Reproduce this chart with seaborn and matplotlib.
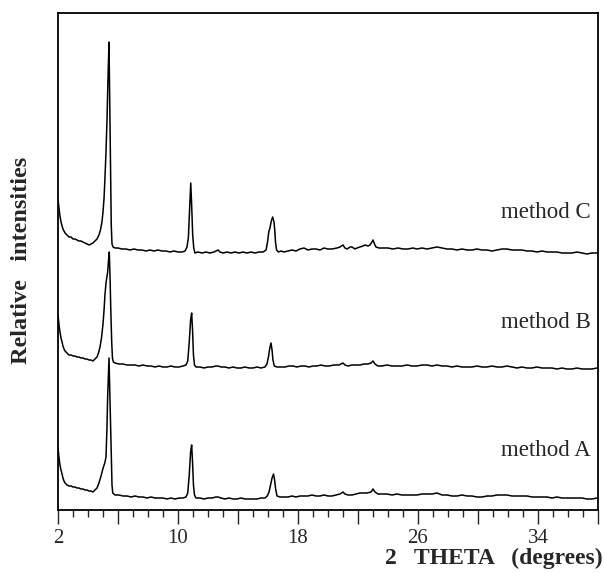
import pandas as pd
import matplotlib
matplotlib.use("Agg")
import matplotlib.pyplot as plt
import seaborn as sns
from matplotlib.ticker import FixedLocator, MultipleLocator

# (2-theta in degrees, relative intensity); traces are already stacked
method_c = [
    (2.00, 310), (2.07, 301), (2.13, 294), (2.20, 288), (2.27, 284), (2.33, 281), (2.40, 279),
    (2.47, 277), (2.60, 275), (2.73, 273), (2.87, 273), (3.00, 271), (3.13, 271), (3.27, 270),
    (3.40, 269), (3.53, 269), (3.67, 268), (3.80, 267), (3.93, 266), (4.07, 265), (4.20, 266),
    (4.33, 267), (4.47, 269), (4.60, 271), (4.73, 275), (4.83, 280), (4.93, 288), (5.00, 298),
    (5.07, 312), (5.13, 332), (5.20, 358), (5.27, 392), (5.33, 430), (5.40, 468), (5.45, 405),
    (5.50, 335), (5.55, 285), (5.60, 266), (5.67, 263), (5.80, 262), (6.00, 262), (6.27, 261),
    (6.53, 261), (6.80, 260), (7.07, 261), (7.33, 260), (7.60, 260), (7.87, 259), (8.13, 260),
    (8.40, 259), (8.67, 260), (8.93, 259), (9.20, 259), (9.47, 258), (9.73, 259), (10.00, 258),
    (10.27, 258), (10.47, 259), (10.60, 263), (10.69, 272), (10.77, 300), (10.85, 327),
    (10.91, 305), (10.98, 275), (11.05, 262), (11.13, 257), (11.33, 258), (11.60, 257),
    (11.87, 258), (12.13, 257), (12.40, 258), (12.67, 260), (12.80, 258), (13.00, 257),
    (13.27, 258), (13.53, 257), (13.80, 258), (14.07, 257), (14.33, 258), (14.60, 257),
    (14.87, 258), (15.13, 257), (15.40, 258), (15.67, 258), (15.87, 260), (15.97, 268),
    (16.05, 278), (16.13, 282), (16.22, 289), (16.31, 293), (16.40, 288), (16.45, 280),
    (16.50, 268), (16.57, 260), (16.70, 258), (16.87, 259), (17.07, 258), (17.33, 259),
    (17.60, 260), (17.87, 259), (18.13, 261), (18.40, 262), (18.67, 260), (18.93, 261),
    (19.20, 261), (19.47, 260), (19.73, 262), (20.00, 261), (20.27, 261), (20.60, 262),
    (20.80, 263), (21.00, 265), (21.13, 262), (21.27, 261), (21.47, 263), (21.60, 263),
    (21.80, 261), (21.93, 262), (22.13, 263), (22.33, 264), (22.47, 265), (22.67, 264),
    (22.80, 265), (22.93, 268), (23.00, 270), (23.10, 266), (23.20, 263), (23.40, 262),
    (23.67, 262), (24.00, 262), (24.33, 261), (24.67, 262), (25.00, 261), (25.33, 261),
    (25.67, 262), (25.93, 261), (26.27, 262), (26.60, 261), (26.93, 262), (27.27, 263),
    (27.60, 262), (27.93, 261), (28.27, 261), (28.60, 260), (28.93, 261), (29.27, 260),
    (29.60, 260), (29.93, 261), (30.27, 260), (30.60, 260), (30.93, 259), (31.27, 260),
    (31.60, 261), (31.93, 261), (32.27, 260), (32.60, 260), (32.93, 260), (33.27, 259),
    (33.60, 259), (33.93, 258), (34.27, 259), (34.60, 258), (34.93, 258), (35.27, 258),
    (35.60, 257), (35.93, 257), (36.27, 257), (36.60, 258), (36.93, 257), (37.27, 256),
    (37.60, 257), (37.93, 257),
]

method_b = [
    (2.00, 195), (2.07, 185), (2.13, 178), (2.20, 172), (2.27, 168), (2.33, 164), (2.40, 161),
    (2.47, 159), (2.60, 157), (2.73, 155), (2.87, 155), (3.00, 154), (3.13, 154), (3.27, 153),
    (3.40, 153), (3.53, 152), (3.67, 152), (3.80, 151), (3.93, 151), (4.07, 150), (4.20, 150),
    (4.33, 149), (4.47, 151), (4.60, 153), (4.70, 157), (4.80, 163), (4.90, 172), (5.00, 186),
    (5.07, 200), (5.13, 215), (5.20, 227), (5.27, 234), (5.31, 238), (5.36, 248), (5.42, 258),
    (5.47, 232), (5.52, 200), (5.58, 168), (5.63, 152), (5.69, 148), (5.80, 147), (6.07, 146),
    (6.33, 146), (6.60, 145), (6.87, 145), (7.13, 145), (7.40, 144), (7.67, 145), (7.93, 144),
    (8.20, 144), (8.47, 143), (8.73, 144), (9.00, 143), (9.27, 143), (9.53, 144), (9.80, 143),
    (10.07, 143), (10.33, 144), (10.53, 145), (10.65, 149), (10.75, 168), (10.84, 190),
    (10.91, 197), (10.97, 180), (11.03, 155), (11.10, 145), (11.20, 143), (11.47, 143),
    (11.73, 142), (12.00, 143), (12.27, 143), (12.53, 144), (12.67, 144), (12.87, 143),
    (13.13, 143), (13.40, 142), (13.67, 143), (13.93, 142), (14.20, 142), (14.47, 143),
    (14.73, 142), (15.00, 142), (15.27, 143), (15.53, 142), (15.80, 143), (15.93, 146),
    (16.03, 153), (16.12, 162), (16.20, 167), (16.27, 160), (16.33, 150), (16.42, 144),
    (16.60, 143), (16.87, 143), (17.13, 143), (17.40, 144), (17.67, 144), (17.93, 143),
    (18.20, 144), (18.47, 144), (18.73, 143), (19.00, 144), (19.27, 144), (19.53, 145),
    (19.80, 144), (20.07, 144), (20.40, 145), (20.73, 145), (21.00, 147), (21.13, 145),
    (21.33, 144), (21.60, 145), (21.87, 145), (22.13, 145), (22.40, 146), (22.67, 146),
    (22.87, 147), (23.00, 149), (23.13, 146), (23.33, 144), (23.60, 144), (23.93, 145),
    (24.27, 144), (24.60, 144), (24.93, 144), (25.27, 145), (25.60, 144), (25.93, 144),
    (26.27, 145), (26.60, 145), (26.93, 144), (27.27, 145), (27.60, 144), (27.93, 144),
    (28.27, 143), (28.60, 144), (28.93, 143), (29.27, 143), (29.60, 143), (29.93, 144),
    (30.27, 143), (30.60, 143), (30.93, 144), (31.27, 143), (31.60, 143), (31.93, 144),
    (32.27, 143), (32.60, 142), (32.93, 143), (33.27, 142), (33.60, 142), (33.93, 143),
    (34.27, 142), (34.60, 142), (34.93, 142), (35.27, 141), (35.60, 142), (35.93, 141),
    (36.27, 141), (36.60, 142), (36.93, 141), (37.27, 141), (37.60, 141), (37.93, 142),
]

method_a = [
    (2.00, 62), (2.07, 52), (2.13, 45), (2.20, 40), (2.27, 36), (2.33, 32), (2.40, 29),
    (2.47, 27), (2.60, 25), (2.73, 24), (2.87, 24), (3.00, 23), (3.13, 23), (3.27, 22),
    (3.40, 22), (3.53, 21), (3.67, 21), (3.80, 20), (3.93, 20), (4.07, 19), (4.20, 19),
    (4.33, 18), (4.47, 20), (4.60, 22), (4.73, 27), (4.87, 34), (4.97, 40), (5.05, 44),
    (5.12, 47), (5.20, 53), (5.26, 80), (5.31, 113), (5.36, 135), (5.40, 152), (5.45, 120),
    (5.50, 90), (5.55, 55), (5.60, 25), (5.65, 17), (5.80, 15), (6.07, 15), (6.33, 14),
    (6.60, 14), (6.87, 13), (7.13, 14), (7.40, 13), (7.67, 13), (7.93, 12), (8.20, 13),
    (8.47, 12), (8.73, 12), (9.00, 12), (9.27, 11), (9.53, 12), (9.80, 11), (10.07, 12),
    (10.33, 12), (10.53, 13), (10.65, 17), (10.75, 35), (10.84, 58), (10.91, 65), (10.97, 48),
    (11.03, 25), (11.10, 15), (11.20, 12), (11.47, 12), (11.73, 11), (12.00, 12), (12.27, 12),
    (12.53, 13), (12.67, 13), (12.87, 12), (13.13, 11), (13.40, 12), (13.67, 11), (13.93, 11),
    (14.20, 12), (14.47, 11), (14.73, 11), (15.00, 11), (15.27, 11), (15.53, 12), (15.80, 12),
    (15.95, 14), (16.07, 18), (16.17, 25), (16.27, 32), (16.37, 36), (16.44, 30), (16.51, 21),
    (16.60, 14), (16.80, 13), (17.07, 13), (17.33, 13), (17.60, 14), (17.87, 13), (18.13, 14),
    (18.40, 14), (18.67, 14), (18.93, 15), (19.20, 14), (19.47, 14), (19.73, 15), (20.00, 14),
    (20.27, 14), (20.53, 15), (20.80, 16), (21.00, 18), (21.13, 16), (21.33, 15), (21.60, 15),
    (21.87, 16), (22.13, 17), (22.33, 17), (22.60, 17), (22.87, 18), (23.00, 21), (23.13, 18),
    (23.33, 16), (23.60, 16), (23.93, 16), (24.27, 15), (24.60, 16), (24.93, 15), (25.27, 15),
    (25.60, 15), (25.93, 15), (26.27, 16), (26.60, 16), (26.93, 16), (27.27, 17), (27.60, 15),
    (27.93, 15), (28.27, 14), (28.60, 14), (28.93, 15), (29.27, 14), (29.60, 14), (29.93, 13),
    (30.27, 13), (30.60, 14), (30.93, 14), (31.27, 15), (31.60, 15), (31.93, 15), (32.27, 14),
    (32.60, 14), (32.93, 14), (33.27, 14), (33.60, 13), (33.93, 13), (34.27, 13), (34.60, 13),
    (34.93, 12), (35.27, 13), (35.60, 12), (35.93, 12), (36.27, 12), (36.60, 12), (36.93, 12),
    (37.27, 11), (37.60, 11), (37.93, 12),
]

methods = ["method A", "method B", "method C"]
label_y = [60, 188, 298]

tick_vals = list(range(2, 39, 4))
tick_labels = ["2", "", "10", "", "18", "", "26", "", "34", ""]

frames = []
for name, pts in zip(methods, [method_a, method_b, method_c]):
    d = pd.DataFrame(pts, columns=["tth", "I"])
    d["method"] = name
    frames.append(d)
df = pd.concat(frames, ignore_index=True)

sns.set_style("ticks")
plt.rcParams["font.family"] = ["Liberation Serif", "DejaVu Serif"]

fig = plt.figure(figsize=(6.05, 5.73), dpi=100)
ax = fig.add_axes([58 / 605, 63 / 573, 540 / 605, 497 / 573])

sns.lineplot(data=df, x="tth", y="I", hue="method", units="method", estimator=None,
             palette=["black"] * 3, linewidth=1.1, legend=False, sort=False, ax=ax)

for name, yy in zip(methods, label_y):
    ax.text(37.5, yy, name, ha="right", va="center", fontsize=16.5)

ax.set_xlim(2, 38)
ax.set_ylim(0, 497)
ax.xaxis.set_major_locator(FixedLocator(tick_vals))
ax.set_xticklabels(tick_labels)
ax.xaxis.set_minor_locator(MultipleLocator(1))
ax.tick_params(axis="x", which="major", length=10, width=1, direction="out", labelsize=15, pad=4)
ax.tick_params(axis="x", which="minor", length=5, width=1, direction="out")
ax.set_yticks([])
ax.set_xlabel("")
ax.set_ylabel("")
for sp in ax.spines.values():
    sp.set_linewidth(1.3)
    sp.set_color("black")

fig.text(603 / 605, 1 - 558 / 573, "2   THETA   (degrees)", ha="right", va="center",
         fontsize=17, fontweight="bold")
fig.text(22 / 605, 1 - 260 / 573, "Relative   intensities", ha="center", va="center",
         rotation=90, fontsize=17.5, fontweight="bold")

fig.savefig("out.png", dpi=100)
